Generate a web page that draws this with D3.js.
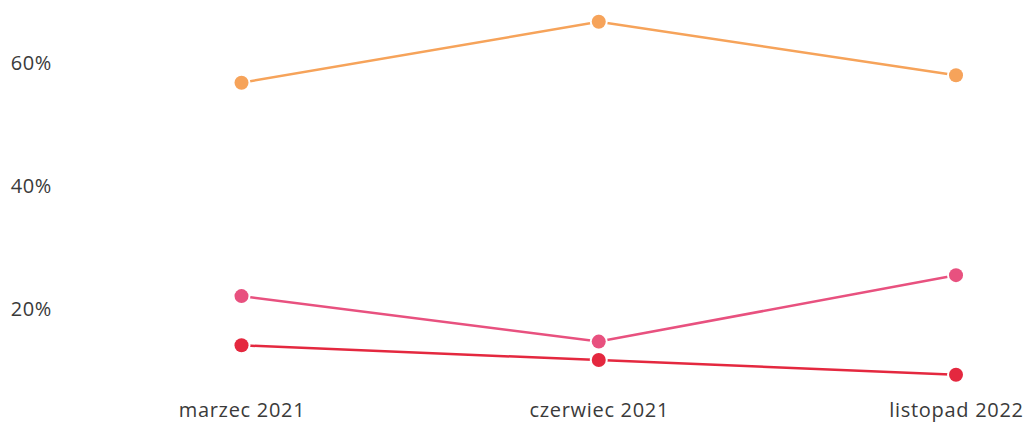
<!DOCTYPE html>
<html><head><meta charset="utf-8">
<script src="https://cdn.jsdelivr.net/npm/d3@7"></script>
<style>
html,body{margin:0;padding:0;background:#fff;}
text{font-family:"Open Sans",sans-serif;}
</style></head>
<body><svg id="c" width="1027" height="425"></svg>
<script>
const categories = ["marzec 2021", "czerwiec 2021", "listopad 2022"];
const seriesOrange = [56.8, 66.7, 58.0];
const seriesPink = [22.1, 14.7, 25.5];
const seriesRed = [14.1, 11.7, 9.3];
const yTicks = [20, 40, 60];

const series = [
  {values: seriesOrange, color: "#F6A35A"},
  {values: seriesPink, color: "#E8517F"},
  {values: seriesRed, color: "#E4283F"}
];

const svg = d3.select("#c");
const x = d3.scalePoint().domain(categories).range([241.5, 956]);
const y = d3.scaleLinear().domain([0, 60]).range([432, 63]);

const yAxis = svg.append("g").attr("transform", "translate(52,0)")
  .call(d3.axisLeft(y).tickValues(yTicks).tickSize(0).tickPadding(0).tickFormat(d => d + "%"));
yAxis.select(".domain").remove();
yAxis.selectAll("text").attr("font-size", 20).attr("letter-spacing", "0.6px").attr("fill", "#3a3a3a").attr("font-family", "Open Sans, sans-serif");

const xAxis = svg.append("g").attr("transform", "translate(0,403)")
  .call(d3.axisBottom(x).tickSize(0).tickPadding(0));
xAxis.select(".domain").remove();
xAxis.selectAll("text").attr("font-size", 20).attr("letter-spacing", "0.7px").attr("fill", "#3a3a3a").attr("font-family", "Open Sans, sans-serif");

const line = d3.line().x((d, i) => x(categories[i])).y(d => y(d));

series.forEach(s => {
  svg.append("path").datum(s.values).attr("d", line)
    .attr("fill", "none").attr("stroke", s.color).attr("stroke-width", 2.5);
});
series.forEach(s => {
  svg.selectAll(null).data(s.values).enter().append("circle")
    .attr("cx", (d, i) => x(categories[i])).attr("cy", d => y(d)).attr("r", 7)
    .attr("fill", s.color).attr("stroke", "#fff").attr("stroke-width", 4).attr("paint-order", "stroke");
});
</script></body></html>
